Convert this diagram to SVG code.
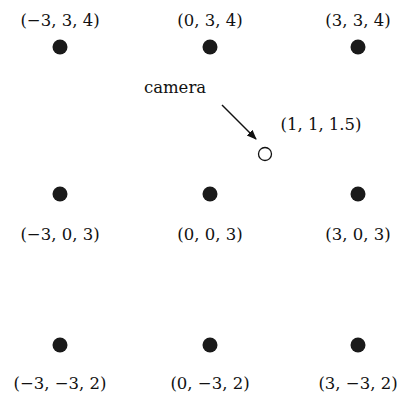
<svg xmlns="http://www.w3.org/2000/svg" width="397" height="396" viewBox="0 0 397 396">
<style>
text{font-family:"DejaVu Serif","Liberation Serif",serif;font-size:16.5px;fill:#111;text-anchor:middle}
.pt{fill:#1a1a1a}
</style>
<defs>
<marker id="ah" viewBox="0 0 10 10" refX="9" refY="5" markerWidth="10" markerHeight="10" markerUnits="userSpaceOnUse" orient="auto">
<path d="M0,1 L10,5 L0,9 Z" fill="#111"/>
</marker>
</defs>
<rect width="397" height="396" fill="#fff"/>
<g id="p1"><circle class="pt" cx="60" cy="47" r="7.5"/><text x="60" y="26">(−3, 3, 4)</text></g>
<g id="p2"><circle class="pt" cx="210" cy="47" r="7.5"/><text x="210" y="26">(0, 3, 4)</text></g>
<g id="p3"><circle class="pt" cx="358" cy="47" r="7.5"/><text x="358" y="26">(3, 3, 4)</text></g>
<g id="p4"><circle class="pt" cx="60" cy="194" r="7.5"/><text x="60" y="240">(−3, 0, 3)</text></g>
<g id="p5"><circle class="pt" cx="210" cy="194" r="7.5"/><text x="210" y="240">(0, 0, 3)</text></g>
<g id="p6"><circle class="pt" cx="358" cy="194" r="7.5"/><text x="358" y="240">(3, 0, 3)</text></g>
<g id="p7"><circle class="pt" cx="60" cy="345" r="7.5"/><text x="60" y="389">(−3, −3, 2)</text></g>
<g id="p8"><circle class="pt" cx="210" cy="345" r="7.5"/><text x="210" y="389">(0, −3, 2)</text></g>
<g id="p9"><circle class="pt" cx="358" cy="345" r="7.5"/><text x="358" y="389">(3, −3, 2)</text></g>
<g id="cam"><circle cx="265" cy="154" r="6.5" fill="#fff" stroke="#111" stroke-width="1.3"/><text x="321" y="130">(1, 1, 1.5)</text></g>
<g id="camlabel"><text x="175" y="93">camera</text></g>
<g id="connectors"><line x1="222" y1="105" x2="256" y2="139" stroke="#111" stroke-width="1.5" marker-end="url(#ah)"/></g>
</svg>
